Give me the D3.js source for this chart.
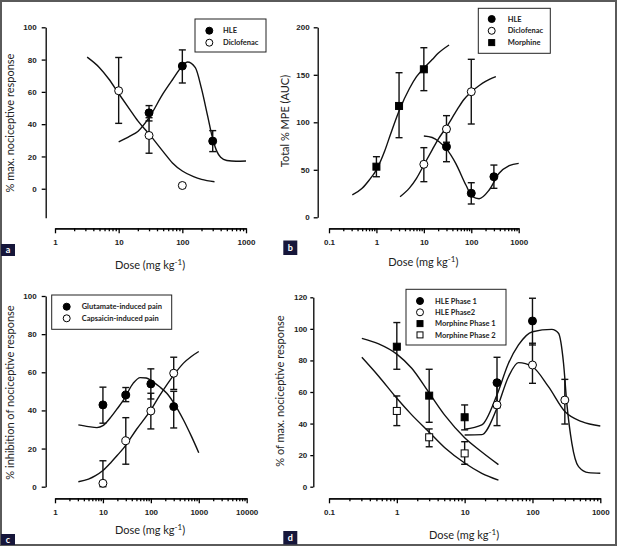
<!DOCTYPE html>
<html>
<head>
<meta charset="utf-8">
<script src="https://cdn.jsdelivr.net/npm/d3@7"></script>
<style>
  body { margin: 0; background: #fff; }
  svg { display: block; font-family: Lato, "Open Sans", sans-serif; }
</style>
</head>
<body>
<div id="chart"></div>
<script>
// ---- data: points are [dose, mean, lower, upper], fits are [dose, value] ----
// panel a
const aHLE = [[30, 47, 42, 51.5], [100, 76, 65.5, 86], [300, 29.5, 23, 36]];
const aDiclo = [[10, 60.7, 40.5, 81.3], [30, 33, 22, 44], [100, 2, 0.8, 3.2]];
const aHLEFit = [[10, 29], [15, 32.6], [20, 35.5], [30, 44], [50, 59], [70, 67.5], [100, 76], [120, 78.5], [160, 75], [200, 62], [250, 45], [300, 31], [350, 23], [400, 19.5], [500, 17.5], [700, 17], [1000, 17.2]];
const aDicloFit = [[3.2, 81.5], [5, 75], [7, 68], [10, 59], [15, 49], [20, 42], [30, 34], [50, 23], [70, 16], [100, 11], [150, 7.5], [200, 5.8], [320, 4.3]];

// panel b
const bHLE = [[30, 74.3, 58.5, 90], [100, 25.3, 14, 36.4], [300, 42.7, 30.5, 55]];
const bDiclo = [[10, 55.8, 37.5, 73.3], [30, 92.9, 79, 107], [100, 132.2, 98.2, 166.3]];
const bMorph = [[1, 53.3, 42.7, 63.8], [3, 117.2, 83.8, 152.2], [10, 155.8, 133.3, 178.5]];
const bMorphFit = [[0.31, 23.5], [0.5, 30.5], [0.7, 39], [1, 50], [1.5, 70], [2, 88], [3, 112], [5, 135.8], [7, 148], [10, 157], [15, 166], [20, 172.6], [34, 181.4]];
const bDicloFit = [[3.15, 21.7], [5, 31], [7, 41], [10, 55], [15, 71], [20, 82], [30, 95], [50, 113], [70, 124], [100, 132], [150, 139], [200, 143], [330, 148]];
const bHLEFit = [[10, 85.6], [15, 84], [21, 79.6], [30, 72], [47, 56.8], [77, 34], [106, 21.7], [146, 19.6], [238, 28.7], [386, 46.3], [630, 54.3], [1000, 56.8]];

// panel c
const cGlut = [[10, 42.9, 33.3, 52.2], [30, 48.1, 44.6, 52], [100, 53.9, 46, 61.8], [300, 42, 30.8, 50]];
const cCaps = [[10, 1.8, 0, 13.6], [30, 24.1, 11.8, 36.2], [100, 39.7, 30.3, 49], [300, 59.5, 51, 67.9]];
const cGlutFit = [[3.07, 32.4], [5, 31.5], [7.5, 31], [10, 32], [14, 35.9], [20, 41], [27, 45.5], [43, 54.3], [60, 57.2], [80, 57], [100, 55.8], [150, 52.5], [215, 49], [300, 44], [480, 35], [700, 26.5], [1000, 17.8]];
const cCapsFit = [[3.07, 2.6], [5, 4], [7, 5.8], [10, 8.5], [15, 13], [20, 16.5], [27, 20.2], [50, 30], [100, 40.3], [150, 47.5], [215, 53.4], [300, 58.5], [480, 64.8], [700, 68.3], [1000, 70.9]];

// panel d
const dHLE1 = [[30, 65.9, 50, 82], [100, 105, 89.8, 119.4]];
const dHLE2 = [[30, 51.8, 38.7, 65], [100, 77.1, 65.5, 90.9], [300, 54.9, 39.7, 68]];
const dMorph1 = [[1, 88.7, 74.4, 104], [3, 57.7, 40.8, 74.4], [10, 44, 36, 51.8]];
const dMorph2 = [[1, 48, 38.7, 57.5], [3, 31.3, 25.3, 36.6], [10, 21.1, 14.2, 28.5]];
const dMorph1Fit = [[0.305, 94], [0.54, 90.5], [1, 84], [1.66, 75], [2.93, 60], [5.15, 45], [10, 31], [17.9, 22], [31.5, 14]];
const dMorph2Fit = [[0.305, 82], [0.54, 70], [1, 56], [1.66, 45.5], [2.93, 35], [5.15, 24.5], [10, 15], [17.9, 8.5], [31.5, 4.2]];
const dHLE1Fit = [[10, 36.4], [17.9, 39.1], [29.9, 58.1], [44.3, 78.2], [62.2, 89.8], [100, 98.2], [193, 99.7], [242, 97.2], [287, 78.2], [321, 52.8], [381, 27.5], [478, 12.7], [670, 8.9], [1000, 8.5]];
const dHLE2Fit = [[10, 32.8], [17.9, 33], [29.9, 49.7], [44.3, 69.7], [62.2, 78.6], [100, 76], [172, 63.4], [303, 47.5], [535, 41.2], [1000, 38.5]];

// tick labels
const ticksA = [1, 10, 100, 1000], labelsA = ["1", "10", "100", "1000"];
const ticksB = [0.1, 1, 10, 100, 1000], labelsB = ["0.1", "1", "10", "100", "1000"];
const ticksC = [1, 10, 100, 1000, 10000], labelsC = ["1", "10", "100", "1000", "10000"];
const ticksD = [0.1, 1, 10, 100, 1000], labelsD = ["0.1", "1", "10", "100", "1000"];
const yTicksA = [0, 20, 40, 60, 80, 100];
const yTicksB = [0, 50, 100, 150, 200];
const yTicksC = [0, 20, 40, 60, 80, 100];
const yTicksD = [0, 20, 40, 60, 80, 100, 120];

// ---- drawing ----
const svg = d3.select("#chart").append("svg")
    .attr("width", 617)
    .attr("height", 546);

svg.append("rect")
    .attr("x", 1).attr("y", 1)
    .attr("width", 615).attr("height", 544)
    .attr("fill", "#fff")
    .attr("stroke", "#5a5a5a")
    .attr("stroke-width", 2);

// minor ticks 2..9 of every decade in the domain
function minorTicks(domain) {
    const out = [];
    const lo = Math.round(Math.log10(domain[0])), hi = Math.round(Math.log10(domain[1]));
    for (let e = lo; e < hi; e++) {
        for (let m = 2; m <= 9; m++) out.push(m * Math.pow(10, e));
    }
    return out;
}

function drawMarker(g, type, cx, cy, r) {
    const filled = type.endsWith("filled");
    if (type.startsWith("circle")) {
        g.append("circle")
            .attr("cx", cx).attr("cy", cy).attr("r", r)
            .attr("fill", filled ? "#000" : "#fff")
            .attr("stroke", "#000").attr("stroke-width", 1);
    } else {
        g.append("rect")
            .attr("x", cx - r).attr("y", cy - r)
            .attr("width", 2 * r).attr("height", 2 * r)
            .attr("fill", filled ? "#000" : "#fff")
            .attr("stroke", "#000").attr("stroke-width", 1);
    }
}

function drawPanel(p) {
    const x = d3.scaleLog().domain(p.xDomain).range(p.xRange);
    const y = d3.scaleLinear().domain(p.yDomain).range(p.yRange);
    const g = svg.append("g");

    // x axis: minor then major ticks
    g.append("g")
        .attr("class", "axis")
        .attr("transform", `translate(0,${p.xAxisY})`)
        .call(d3.axisBottom(x).tickValues(minorTicks(p.xDomain)).tickSize(3).tickSizeOuter(0).tickFormat(""));
    g.append("g")
        .attr("class", "axis")
        .attr("transform", `translate(0,${p.xAxisY})`)
        .call(d3.axisBottom(x).tickValues(p.xTicks).tickSize(5).tickSizeOuter(0).tickPadding(6)
            .tickFormat((d, i) => p.xLabels[i]));

    // y axis
    g.append("g")
        .attr("class", "axis")
        .attr("transform", `translate(${p.yAxisX},0)`)
        .call(d3.axisLeft(y).tickValues(p.yTicks).tickSize(p.yTickSize).tickSizeOuter(0).tickPadding(p.yPad));

    g.selectAll(".axis path, .axis line")
        .attr("stroke", "#000")
        .attr("stroke-width", 1.3);
    g.selectAll(".axis text")
        .attr("fill", "#222")
        .style("font-size", "8px")
        .style("font-weight", "bold");

    // fitted curves
    const line = d3.line()
        .x(d => x(d[0]))
        .y(d => y(d[1]))
        .curve(d3.curveMonotoneX);
    p.fits.forEach(f => {
        g.append("path")
            .attr("d", line(f))
            .attr("fill", "none")
            .attr("stroke", "#111")
            .attr("stroke-width", 1.4);
    });

    // error bars
    p.series.forEach(s => {
        s.data.forEach(d => {
            const cx = x(d[0]);
            g.append("line")
                .attr("x1", cx).attr("x2", cx)
                .attr("y1", y(d[2])).attr("y2", y(d[3]))
                .attr("stroke", "#111").attr("stroke-width", 1.4);
            [d[2], d[3]].forEach(v => {
                g.append("line")
                    .attr("x1", cx - 3.5).attr("x2", cx + 3.5)
                    .attr("y1", y(v)).attr("y2", y(v))
                    .attr("stroke", "#111").attr("stroke-width", 1.4);
            });
        });
    });

    // markers
    p.series.forEach(s => {
        s.data.forEach(d => drawMarker(g, s.type, x(d[0]), y(d[1]), s.type.startsWith("circle") ? 4 : 3.5));
    });

    // legend
    const L = p.legend;
    g.append("rect")
        .attr("x", L.x).attr("y", L.y)
        .attr("width", L.w).attr("height", L.h)
        .attr("fill", "#fff")
        .attr("stroke", "#222").attr("stroke-width", 1);
    p.series.forEach((s, i) => {
        const ly = L.y + L.first + i * L.step;
        drawMarker(g, s.type, L.x + L.mx, ly, s.type.startsWith("circle") ? 3.5 : 3);
        g.append("text")
            .attr("x", L.x + L.tx)
            .attr("y", ly)
            .attr("dy", "0.35em")
            .style("font-size", "7.5px")
            .style("font-weight", "bold")
            .attr("fill", "#222")
            .text(s.name);
    });

    // axis titles
    g.append("text")
        .attr("transform", `translate(${p.yTitle[0]},${p.yTitle[1]}) rotate(-90)`)
        .attr("text-anchor", "middle")
        .attr("dy", "0.35em")
        .style("font-size", "11px")
        .attr("fill", "#222")
        .text(p.yTitleText);

    const xt = g.append("text")
        .attr("x", p.xTitle[0])
        .attr("y", p.xTitle[1])
        .attr("text-anchor", "middle")
        .style("font-size", "11px")
        .attr("fill", "#222");
    xt.append("tspan").text("Dose (mg kg");
    xt.append("tspan").attr("dy", -4).style("font-size", "8px").text("-1");
    xt.append("tspan").attr("dy", 4).text(")");

    // panel letter
    g.append("rect")
        .attr("x", p.tag[0]).attr("y", p.tag[1])
        .attr("width", 14).attr("height", p.tag[2])
        .attr("fill", "#16163a");
    g.append("text")
        .attr("x", p.tag[0] + 7)
        .attr("y", p.tag[1] + p.tag[2] / 2)
        .attr("dy", "0.35em")
        .attr("text-anchor", "middle")
        .style("font-size", "9px")
        .style("font-weight", "bold")
        .attr("fill", "#fff")
        .text(p.letter);
}

drawPanel({
    letter: "a", tag: [1, 244, 12],
    xDomain: [1, 1000], xRange: [55, 246], xAxisY: 228.3, xTicks: ticksA, xLabels: labelsA,
    yDomain: [-18, 100], yRange: [217.8, 27.3], yAxisX: 45.7, yTicks: yTicksA, yTickSize: 4, yPad: 5,
    yTitle: [10, 123], yTitleText: "% max. nociceptive response",
    xTitle: [150, 269],
    fits: [aHLEFit, aDicloFit],
    series: [
        { name: "HLE", type: "circle-filled", data: aHLE },
        { name: "Diclofenac", type: "circle-open", data: aDiclo }
    ],
    legend: { x: 195, y: 19, w: 71, h: 33, first: 11.7, step: 12, mx: 14.3, tx: 28 }
});

drawPanel({
    letter: "b", tag: [283.3, 240.5, 14.5],
    xDomain: [0.1, 1000], xRange: [329, 518.7], xAxisY: 228.3, xTicks: ticksB, xLabels: labelsB,
    yDomain: [0, 200], yRange: [217.3, 27.3], yAxisX: 317.7, yTicks: yTicksB, yTickSize: 4, yPad: 4,
    yTitle: [285, 121], yTitleText: "Total % MPE (AUC)",
    xTitle: [423.3, 265.5],
    fits: [bMorphFit, bDicloFit, bHLEFit],
    series: [
        { name: "HLE", type: "circle-filled", data: bHLE },
        { name: "Diclofenac", type: "circle-open", data: bDiclo },
        { name: "Morphine", type: "square-filled", data: bMorph }
    ],
    legend: { x: 478.3, y: 8.3, w: 72, h: 45, first: 10.7, step: 11.8, mx: 13.4, tx: 29.4 }
});

drawPanel({
    letter: "c", tag: [1, 534, 11],
    xDomain: [1, 10000], xRange: [55, 246.7], xAxisY: 498.3, xTicks: ticksC, xLabels: labelsC,
    yDomain: [0, 100], yRange: [486.7, 296], yAxisX: 45.7, yTicks: yTicksC, yTickSize: 4, yPad: 5,
    yTitle: [10, 392.5], yTitleText: "% inhibition of nociceptive response",
    xTitle: [150, 534],
    fits: [cGlutFit, cCapsFit],
    series: [
        { name: "Glutamate-induced pain", type: "circle-filled", data: cGlut },
        { name: "Capsaicin-induced pain", type: "circle-open", data: cCaps }
    ],
    legend: { x: 51.7, y: 295, w: 120, h: 34.3, first: 11.7, step: 11.6, mx: 15, tx: 30 }
});

drawPanel({
    letter: "d", tag: [283.3, 531, 13.5],
    xDomain: [0.1, 1000], xRange: [329, 600.3], xAxisY: 498.3, xTicks: ticksD, xLabels: labelsD,
    yDomain: [0, 120], yRange: [486.7, 297.3], yAxisX: 313.3, yTicks: yTicksD, yTickSize: 3, yPad: 3,
    yTitle: [280, 391], yTitleText: "% of max. nociceptive response",
    xTitle: [464, 539],
    fits: [dMorph1Fit, dMorph2Fit, dHLE1Fit, dHLE2Fit],
    series: [
        { name: "HLE  Phase 1", type: "circle-filled", data: dHLE1 },
        { name: "HLE  Phase2", type: "circle-open", data: dHLE2 },
        { name: "Morphine  Phase 1", type: "square-filled", data: dMorph1 },
        { name: "Morphine  Phase 2", type: "square-open", data: dMorph2 }
    ],
    legend: { x: 406, y: 289.3, w: 100, h: 55.7, first: 11.7, step: 11.3, mx: 14, tx: 29 }
});
</script>
</body>
</html>
